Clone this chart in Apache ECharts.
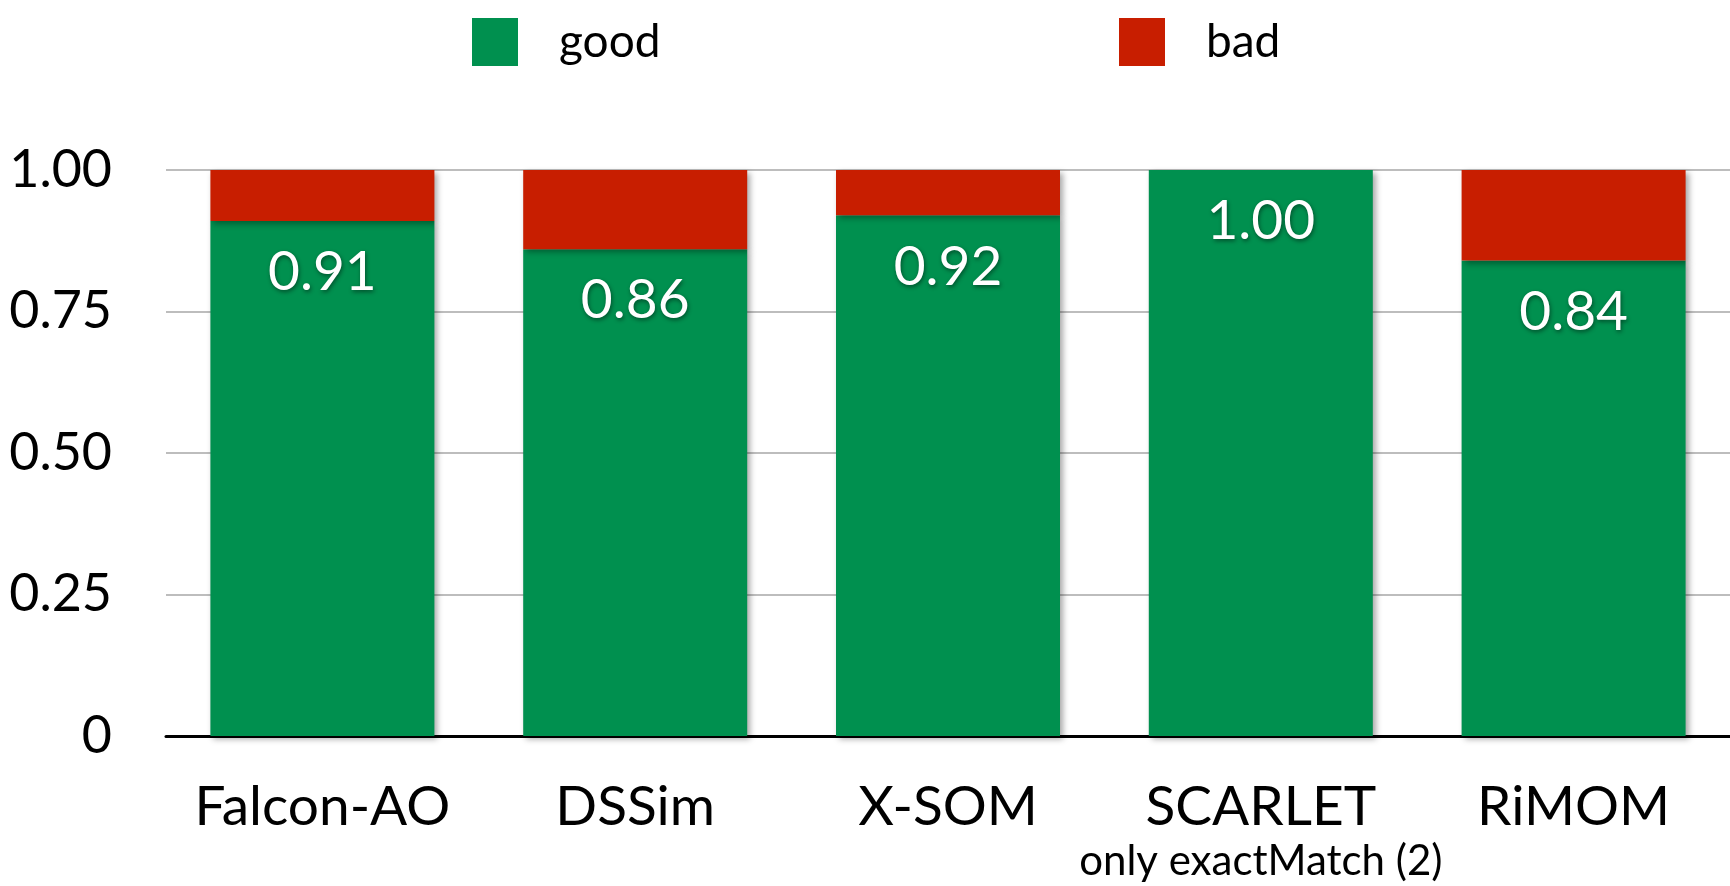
<!DOCTYPE html>
<html>
<head>
<meta charset="utf-8">
<script src="https://cdn.jsdelivr.net/npm/echarts@6/dist/echarts.min.js"></script>
<style>
  html, body { margin: 0; padding: 0; background: #fff; }
  #main { width: 1730px; height: 886px; }
</style>
</head>
<body>
<div id="main"></div>
<script>
var categories = ['Falcon-AO', 'DSSim', 'X-SOM', 'SCARLET', 'RiMOM'];
var goodValues = [0.91, 0.86, 0.92, 1.00, 0.84];
var badValues = [0.09, 0.14, 0.08, 0, 0.16];
var yTicks = [0, 0.25, 0.5, 0.75, 1];

var green = '#00904F';
var red = '#C81E00';
var fontName = 'Lato';

var barShadow = {
    shadowBlur: 6,
    shadowColor: 'rgba(0,0,0,0.35)',
    shadowOffsetX: 3,
    shadowOffsetY: 3
};

var myChart = echarts.init(document.getElementById('main'));

var option = {
    backgroundColor: '#fff',
    animation: false,
    textStyle: { fontFamily: fontName },
    legend: [{
        data: ['good'],
        left: 467,
        top: 13,
        icon: 'rect',
        itemWidth: 46,
        itemHeight: 48,
        textStyle: { fontSize: 46, color: '#000', fontFamily: fontName, padding: [0, 0, 0, 36] }
    }, {
        data: ['bad'],
        left: 1114,
        top: 13,
        icon: 'rect',
        itemWidth: 46,
        itemHeight: 48,
        textStyle: { fontSize: 46, color: '#000', fontFamily: fontName, padding: [0, 0, 0, 36] }
    }],
    grid: {
        left: 166,
        right: -4,
        top: 170,
        bottom: 145,
        containLabel: false
    },
    xAxis: {
        type: 'category',
        data: categories,
        axisTick: { show: false },
        axisLine: { lineStyle: { color: '#000', width: 3 } },
        axisLabel: {
            interval: 0,
            margin: 42,
            color: '#000',
            fontSize: 55,
            fontFamily: fontName,
            lineHeight: 58,
            formatter: function (v) {
                if (v === 'SCARLET') {
                    return 'SCARLET\n{s|only exactMatch (2)}';
                }
                return v;
            },
            rich: {
                s: { fontSize: 42, lineHeight: 50, color: '#000', fontFamily: fontName }
            }
        }
    },
    yAxis: {
        type: 'value',
        min: 0,
        max: 1,
        interval: 0.25,
        axisLine: { show: false },
        axisTick: { show: false },
        splitLine: { lineStyle: { color: '#BDBDBD', width: 2 } },
        axisLabel: {
            margin: 54,
            color: '#000',
            fontSize: 52,
            fontFamily: fontName,
            padding: [12, 0, 0, 0],
            formatter: function (v) {
                return v === 0 ? '0' : v.toFixed(2);
            }
        }
    },
    series: [{
        name: 'good',
        type: 'bar',
        stack: 'total',
        barWidth: 224,
        data: goodValues,
        itemStyle: Object.assign({ color: green }, barShadow),
        label: {
            show: true,
            position: 'insideTop',
            distance: 24,
            color: '#fff',
            fontSize: 55,
            fontFamily: fontName,
            textShadowColor: 'rgba(0,0,0,0.45)',
            textShadowBlur: 4,
            textShadowOffsetX: 1,
            textShadowOffsetY: 2,
            formatter: function (p) {
                return p.value.toFixed(2);
            }
        }
    }, {
        name: 'bad',
        type: 'bar',
        stack: 'total',
        barWidth: 224,
        data: badValues,
        itemStyle: Object.assign({ color: red }, barShadow)
    }]
};

myChart.setOption(option);
</script>
</body>
</html>
